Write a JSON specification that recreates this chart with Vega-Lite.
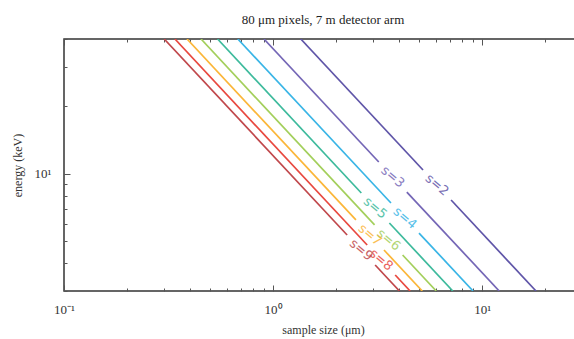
{
  "$schema": "https://vega.github.io/schema/vega-lite/v6.json",
  "autosize": {"type": "none"},
  "padding": {"left": 64, "top": 39, "right": 0, "bottom": 48},
  "width": 518,
  "height": 252,
  "title": {"text": "80 μm pixels, 7 m detector arm", "font": "Liberation Serif", "fontSize": 13, "fontWeight": "normal", "color": "#222", "offset": 12},
  "config": {
    "view": {"stroke": "#333", "strokeWidth": 1.5},
    "axis": {"labelFont": "Liberation Serif", "titleFont": "Liberation Serif", "labelFontSize": 13, "titleFontSize": 12, "titleFontWeight": "normal", "labelColor": "#333", "titleColor": "#333", "tickColor": "#555", "domain": false, "grid": false}
  },
  "datasets": {
    "lines": [
      {"s": "2", "id": "2a", "x": 1.356, "E": 40}, {"s": "2", "id": "2a", "x": 5.211, "E": 10.41},
      {"s": "2", "id": "2b", "x": 7.097, "E": 7.644}, {"s": "2", "id": "2b", "x": 18.08, "E": 3},
      {"s": "3", "id": "3a", "x": 0.904, "E": 40}, {"s": "3", "id": "3a", "x": 3.201, "E": 11.3},
      {"s": "3", "id": "3b", "x": 4.36, "E": 8.295}, {"s": "3", "id": "3b", "x": 12.06, "E": 3},
      {"s": "4", "id": "4a", "x": 0.678, "E": 40}, {"s": "4", "id": "4a", "x": 3.661, "E": 7.41},
      {"s": "4", "id": "4b", "x": 4.985, "E": 5.441}, {"s": "4", "id": "4b", "x": 9.042, "E": 3},
      {"s": "5", "id": "5a", "x": 0.5425, "E": 40}, {"s": "5", "id": "5a", "x": 2.641, "E": 8.216},
      {"s": "5", "id": "5b", "x": 3.597, "E": 6.033}, {"s": "5", "id": "5b", "x": 7.233, "E": 3},
      {"s": "6", "id": "6a", "x": 0.4521, "E": 40}, {"s": "6", "id": "6a", "x": 3.056, "E": 5.917},
      {"s": "6", "id": "6b", "x": 4.162, "E": 4.345}, {"s": "6", "id": "6b", "x": 6.028, "E": 3},
      {"s": "7", "id": "7a", "x": 0.3875, "E": 40}, {"s": "7", "id": "7a", "x": 2.489, "E": 6.227},
      {"s": "7", "id": "7b", "x": 3.39, "E": 4.572}, {"s": "7", "id": "7b", "x": 5.167, "E": 3},
      {"s": "8", "id": "8a", "x": 0.3391, "E": 40}, {"s": "8", "id": "8a", "x": 2.817, "E": 4.815},
      {"s": "8", "id": "8b", "x": 3.836, "E": 3.536}, {"s": "8", "id": "8b", "x": 4.521, "E": 3},
      {"s": "9", "id": "9a", "x": 0.3014, "E": 40}, {"s": "9", "id": "9a", "x": 2.259, "E": 5.337},
      {"s": "9", "id": "9b", "x": 3.076, "E": 3.919}, {"s": "9", "id": "9b", "x": 4.019, "E": 3}
    ],
    "labels": [
      {"s": "2", "label": "s=2", "x": 6.08, "E": 8.92},
      {"s": "3", "label": "s=3", "x": 3.736, "E": 9.68},
      {"s": "4", "label": "s=4", "x": 4.27, "E": 6.35},
      {"s": "5", "label": "s=5", "x": 3.082, "E": 7.04},
      {"s": "6", "label": "s=6", "x": 3.567, "E": 5.07},
      {"s": "7", "label": "s=7", "x": 2.905, "E": 5.336},
      {"s": "8", "label": "s=8", "x": 3.287, "E": 4.126},
      {"s": "9", "label": "s=9", "x": 2.636, "E": 4.573}
    ]
  },
  "resolve": {"axis": {"x": "independent", "y": "independent"}},
  "layer": [
    {
      "data": {"name": "lines"},
      "mark": {"type": "line", "strokeWidth": 1.7, "clip": true},
      "encoding": {
        "x": {"field": "x", "type": "quantitative",
          "scale": {"type": "log", "domain": [0.1, 30], "nice": false},
          "axis": {"orient": "bottom", "title": "sample size (μm)", "titlePadding": 8,
            "values": [0.1, 0.2, 0.3, 0.4, 0.5, 0.6, 0.7, 0.8, 0.9, 1, 2, 3, 4, 5, 6, 7, 8, 9, 10, 20, 30],
            "labelExpr": "datum.value == 0.1 ? '10⁻¹' : datum.value == 1 ? '10⁰' : datum.value == 10 ? '10¹' : ''",
            "tickSize": {"condition": {"test": "datum.value == 0.1 || datum.value == 1 || datum.value == 10", "value": -6}, "value": -3},
            "labelPadding": 18, "labelFlush": false}},
        "y": {"field": "E", "type": "quantitative",
          "scale": {"type": "log", "domain": [3, 40], "nice": false},
          "axis": {"orient": "left", "title": "energy (keV)", "titlePadding": 10,
            "values": [3, 4, 5, 6, 7, 8, 9, 10, 20, 30, 40],
            "labelExpr": "datum.value == 10 ? '10¹' : ''",
            "tickSize": {"condition": {"test": "datum.value == 10", "value": -6}, "value": -3},
            "labelPadding": 19}},
        "color": {"field": "s", "type": "nominal", "legend": null,
          "scale": {"domain": ["2", "3", "4", "5", "6", "7", "8", "9"],
            "range": ["#5f55a8", "#7466b6", "#39b5e6", "#3dba9c", "#a3cf5b", "#fbb638", "#e8483f", "#c0474b"]}},
        "detail": {"field": "id", "type": "nominal"}
      }
    },
    {
      "data": {"name": "labels"},
      "mark": {"type": "text", "font": "DejaVu Sans", "fontSize": 13, "angle": 40, "align": "center", "baseline": "middle", "opacity": 0.85},
      "encoding": {
        "x": {"field": "x", "type": "quantitative",
          "scale": {"type": "log", "domain": [0.1, 30], "nice": false},
          "axis": {"orient": "top", "title": null, "labels": false,
            "values": [0.1, 0.2, 0.3, 0.4, 0.5, 0.6, 0.7, 0.8, 0.9, 1, 2, 3, 4, 5, 6, 7, 8, 9, 10, 20, 30],
            "tickSize": {"condition": {"test": "datum.value == 0.1 || datum.value == 1 || datum.value == 10", "value": -6}, "value": -3}}},
        "y": {"field": "E", "type": "quantitative",
          "scale": {"type": "log", "domain": [3, 40], "nice": false},
          "axis": {"orient": "right", "title": null, "labels": false,
            "values": [3, 4, 5, 6, 7, 8, 9, 10, 20, 30, 40],
            "tickSize": {"condition": {"test": "datum.value == 10", "value": -6}, "value": -3}}},
        "text": {"field": "label", "type": "nominal"},
        "color": {"field": "s", "type": "nominal", "legend": null}
      }
    }
  ]
}
